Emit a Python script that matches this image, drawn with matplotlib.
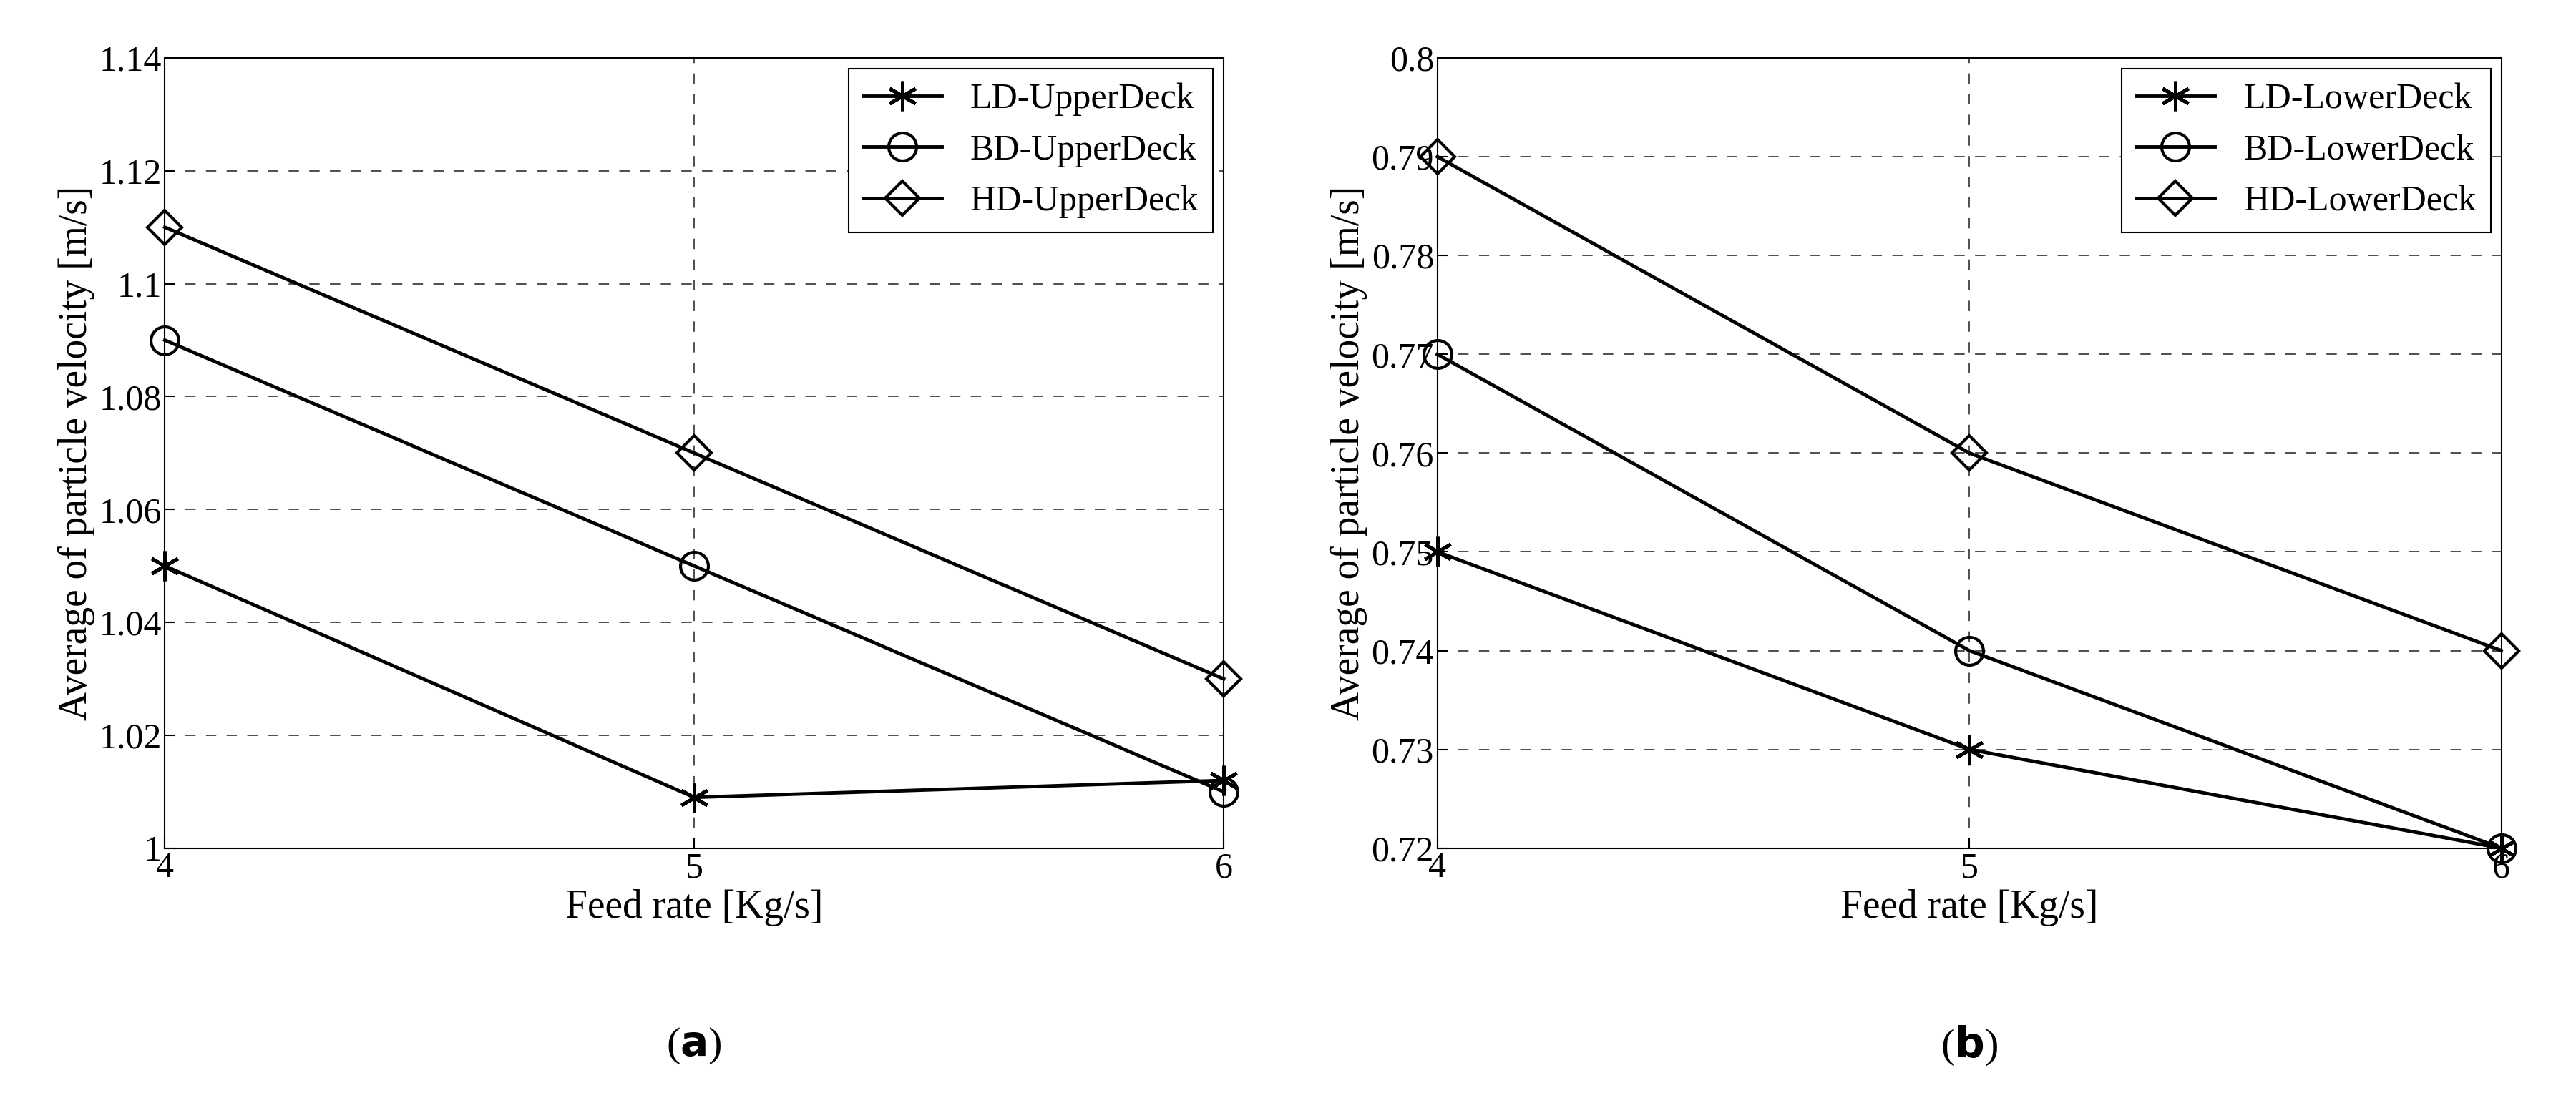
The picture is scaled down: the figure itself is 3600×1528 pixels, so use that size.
import matplotlib
matplotlib.use("Agg")
import matplotlib.pyplot as plt

feed = [4, 5, 6]
ld_up = [1.05, 1.009, 1.012]
bd_up = [1.09, 1.05, 1.01]
hd_up = [1.11, 1.07, 1.03]
ld_lo = [0.75, 0.73, 0.72]
bd_lo = [0.77, 0.74, 0.72]
hd_lo = [0.79, 0.76, 0.74]

plt.rcParams['font.family'] = ['Liberation Serif']
fig = plt.figure(figsize=(36, 15.28), dpi=100)
axA = fig.add_axes([0.064, 0.224, 0.411, 0.723])
axB = fig.add_axes([0.558, 0.224, 0.413, 0.723])

def draw(ax, series, labels, ylim, yticks, yticklabels, letter):
    markers = ['*', 'o', 'D']
    for (vals, lab, m) in zip(series, labels, markers):
        kw = dict(markersize=28, markerfacecolor='none', markeredgecolor='black', markeredgewidth=3)
        if m == 'D':
            kw['markersize'] = 24
        if m == '*':
            kw = dict(markersize=30, markeredgecolor='black', markerfacecolor='black', markeredgewidth=3.5)
            m = (6, 2, 0)
        ax.plot(feed, vals, color='black', lw=3.5, marker=m, label=lab, clip_on=False, zorder=3, **kw)
    ax.set_xlim(4, 6)
    ax.set_ylim(*ylim)
    ax.set_xticks(feed)
    ax.set_yticks(yticks)
    ax.set_yticklabels(yticklabels)
    ax.grid(True, color='black', linestyle=(0, (8, 8)), lw=1.3, alpha=0.75)
    ax.tick_params(labelsize=36, direction='in', length=10, width=1.5)
    for s in ax.spines.values():
        s.set_linewidth(1.5)
    ax.set_xlabel('Feed rate [Kg/s]', fontsize=40)
    ax.set_ylabel('Average of particle velocity [m/s]', fontsize=40)
    leg = ax.legend(loc='upper right', fontsize=36, fancybox=False, edgecolor='black',
                    framealpha=1, borderaxespad=0.3, handlelength=2.2)
    leg.get_frame().set_linewidth(1.5)
    ax.text(0.5, -0.25, r'($\mathbf{%s}$)' % letter, transform=ax.transAxes,
            ha='center', va='center', fontsize=42)

ytA = [1, 1.02, 1.04, 1.06, 1.08, 1.1, 1.12, 1.14]
draw(axA, [ld_up, bd_up, hd_up], ['LD-UpperDeck', 'BD-UpperDeck', 'HD-UpperDeck'],
     (1, 1.14), ytA, ['1', '1.02', '1.04', '1.06', '1.08', '1.1', '1.12', '1.14'], 'a')
ytB = [0.72, 0.73, 0.74, 0.75, 0.76, 0.77, 0.78, 0.79, 0.8]
draw(axB, [ld_lo, bd_lo, hd_lo], ['LD-LowerDeck', 'BD-LowerDeck', 'HD-LowerDeck'],
     (0.72, 0.8), ytB, ['0.72', '0.73', '0.74', '0.75', '0.76', '0.77', '0.78', '0.79', '0.8'], 'b')

fig.savefig('out.png', dpi=100)
